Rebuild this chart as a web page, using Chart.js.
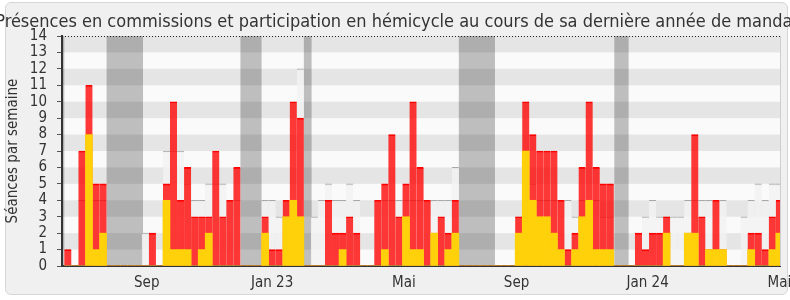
<!DOCTYPE html>
<html>
<head>
<meta charset="utf-8">
<script src="https://cdn.jsdelivr.net/npm/chart.js@4.4.1/dist/chart.umd.min.js"></script>
<style>
html, body { margin: 0; padding: 0; background: #fff; }
#cadre { position: absolute; left: 5px; top: 2px; width: 781px; height: 291px; border: 1px solid #d6d6d6; border-radius: 6px; background: #f0f0f0; }
#zone { position: absolute; left: 0; top: 0; }
</style>
</head>
<body>
<div id="cadre"></div>
<div id="zone"><canvas id="presences" width="790" height="300"></canvas></div>
<script>
// Séances par semaine (une valeur par semaine, de juillet 2022 à mai 2024)
const seancesCommission = [
    1, 0, 7, 11, 5, 5, 0, 0, 0, 0,
    0, 0, 2, 0, 5, 10, 4, 6, 3, 3,
    3, 7, 3, 4, 6, 0, 0, 0, 3, 1,
    1, 4, 10, 9, 0, 0, 0, 4, 2, 2,
    3, 2, 0, 0, 4, 5, 8, 3, 5, 10,
    6, 4, 2, 3, 2, 4, 0, 0, 0, 0,
    0, 0, 0, 0, 3, 10, 8, 7, 7, 7,
    4, 1, 2, 6, 10, 6, 5, 5, 0, 0,
    0, 2, 1, 2, 2, 3, 0, 0, 2, 8,
    3, 1, 4, 1, 0, 0, 0, 2, 2, 1,
    3, 4
];
const interventionsHemicycle = [
    0, 0, 0, 8, 1, 2, 0, 0, 0, 0,
    0, 0, 0, 0, 4, 1, 1, 1, 0, 1,
    2, 0, 0, 0, 0, 0, 0, 0, 2, 0,
    0, 3, 4, 3, 0, 0, 0, 0, 0, 1,
    0, 0, 0, 0, 0, 1, 0, 0, 3, 1,
    1, 0, 2, 0, 1, 2, 0, 0, 0, 0,
    0, 0, 0, 0, 2, 7, 4, 3, 3, 2,
    1, 0, 1, 3, 4, 1, 1, 1, 0, 0,
    0, 0, 0, 0, 0, 2, 0, 0, 2, 2,
    0, 1, 1, 1, 0, 0, 0, 1, 0, 0,
    1, 2
];
// Médiane des présences de l'ensemble des députés
const medianeDeputes = [
    1, 0, 4, 4, 4, 4, 0, 0, 0, 0,
    0, 2, 2, 0, 7, 7, 7, 5, 4, 4,
    5, 5, 5, 4, 4, 0, 0, 0, 4, 4,
    3, 3, 4, 12, 0, 3, 4, 5, 4, 4,
    5, 4, 0, 0, 4, 4, 4, 4, 4, 4,
    4, 4, 4, 4, 4, 6, 0, 0, 0, 0,
    0, 0, 0, 0, 3, 4, 5, 4, 4, 4,
    4, 4, 3, 4, 4, 4, 3, 3, 0, 0,
    0, 2, 3, 4, 3, 3, 3, 3, 4, 4,
    4, 4, 4, 4, 0, 0, 3, 4, 5, 4,
    5, 5
];
// Vacances parlementaires (début, fin) en semaines
const vacances = [[-1.5, -0.5], [5.5, 10.67], [24.5, 27.5], [33.5, 34.6], [55.5, 60.63], [77.57, 79.6]];
// Repères de l'axe des dates
const positionsMois = [11.2, 29.0, 47.7, 63.7, 82.3, 101.0];
const etiquettesMois = ['Sep', 'Jan 23', 'Mai', 'Sep', 'Jan 24', 'Mai'];

const titre = 'Présences en commissions et participation en hémicycle au cours de sa dernière année de mandat';
const police = "'DejaVu Sans Condensed', 'DejaVu Sans', sans-serif";

const enPoints = (valeurs) => valeurs.map((v, i) => ({ x: i, y: v }));

// Fond rayé, vacances, ligne pointillée du haut et titre
const fondGraphique = {
    id: 'fondGraphique',
    beforeDraw(chart) {
        const { ctx, chartArea: a, scales: { x, y } } = chart;
        ctx.save();
        ctx.fillStyle = '#fafafa';
        ctx.fillRect(a.left, a.top, a.width, a.height);
        ctx.fillStyle = '#e5e5e5';
        for (let v = 1; v < 14; v += 2) {
            const haut = y.getPixelForValue(v + 1);
            const bas = y.getPixelForValue(v);
            ctx.fillRect(a.left, haut, a.width, bas - haut);
        }
        ctx.fillStyle = 'rgba(0, 0, 0, 0.24)';
        vacances.forEach(([debut, fin]) => {
            const x0 = Math.max(x.getPixelForValue(debut), a.left);
            const x1 = Math.min(x.getPixelForValue(fin), a.right);
            if (x1 > x0) ctx.fillRect(x0, a.top, x1 - x0, a.height);
        });
        ctx.restore();
    },
    afterDatasetsDraw(chart) {
        const { ctx, chartArea: a } = chart;
        ctx.save();
        ctx.strokeStyle = '#222';
        ctx.lineWidth = 1;
        ctx.setLineDash([1, 2]);
        ctx.beginPath();
        ctx.moveTo(a.left, a.top + 0.5);
        ctx.lineTo(a.right, a.top + 0.5);
        ctx.stroke();
        ctx.setLineDash([]);
        ctx.strokeStyle = '#cfcfcf';
        ctx.beginPath();
        ctx.moveTo(a.right + 0.5, a.top);
        ctx.lineTo(a.right + 0.5, a.bottom);
        ctx.stroke();
        ctx.restore();
    },
    afterDraw(chart) {
        const ctx = chart.ctx;
        ctx.save();
        ctx.font = '18px ' + police;
        ctx.fillStyle = '#333';
        ctx.textAlign = 'center';
        ctx.textBaseline = 'alphabetic';
        ctx.fillText(titre, 397, 26.5);
        ctx.restore();
    }
};

Chart.defaults.font.family = police;
Chart.defaults.color = '#333';

const ctxPresences = document.getElementById('presences').getContext('2d');
new Chart(ctxPresences, {
    type: 'bar',
    data: {
        datasets: [{
            label: 'Interventions en hémicycle',
            data: enPoints(interventionsHemicycle),
            backgroundColor: '#ffd10a',
            borderWidth: 0
        }, {
            label: 'Présences en commission',
            data: enPoints(seancesCommission),
            backgroundColor: 'rgba(255, 0, 0, 0.78)',
            borderColor: '#ff0000',
            borderWidth: { top: 1, left: 0, right: 0, bottom: 0 },
            borderSkipped: 'bottom'
        }, {
            label: 'Médiane des députés',
            data: enPoints(medianeDeputes),
            backgroundColor: 'rgba(242, 242, 242, 0.85)',
            borderColor: '#a8a8a8',
            borderWidth: { top: 1, left: 0, right: 0, bottom: 0 },
            borderSkipped: 'bottom'
        }]
    },
    options: {
        responsive: false,
        animation: false,
        layout: { padding: { top: 36, right: 10, bottom: 0, left: 0 } },
        datasets: {
            bar: { grouped: false, barPercentage: 1, categoryPercentage: 1 }
        },
        plugins: {
            legend: { display: false },
            tooltip: { enabled: false }
        },
        scales: {
            x: {
                type: 'linear',
                offset: false,
                min: -0.83,
                max: 101.09,
                grid: { display: false, offset: false },
                border: { display: true, color: '#333', width: 2 },
                afterBuildTicks: (scale) => {
                    scale.ticks = positionsMois.map(v => ({ value: v }));
                },
                afterFit: (scale) => {
                    scale.height = 34;
                    scale.paddingLeft = 0;
                    scale.paddingRight = 0;
                },
                ticks: {
                    autoSkip: false,
                    maxRotation: 0,
                    padding: 0,
                    font: { size: 15 },
                    callback: (valeur) => {
                        const i = positionsMois.indexOf(valeur);
                        return i >= 0 ? etiquettesMois[i] : '';
                    }
                }
            },
            y: {
                min: 0,
                max: 14,
                grid: { drawOnChartArea: false, drawTicks: true, tickLength: 5, color: '#555' },
                border: { display: true, color: '#333', width: 2 },
                afterFit: (scale) => { scale.width = 62; },
                ticks: { stepSize: 1, autoSkip: false, padding: 10, font: { size: 15 } },
                title: {
                    display: true,
                    text: 'Séances par semaine',
                    font: { size: 15 },
                    padding: { top: 4, bottom: 0 }
                }
            }
        }
    },
    plugins: [fondGraphique]
});
</script>
</body>
</html>
